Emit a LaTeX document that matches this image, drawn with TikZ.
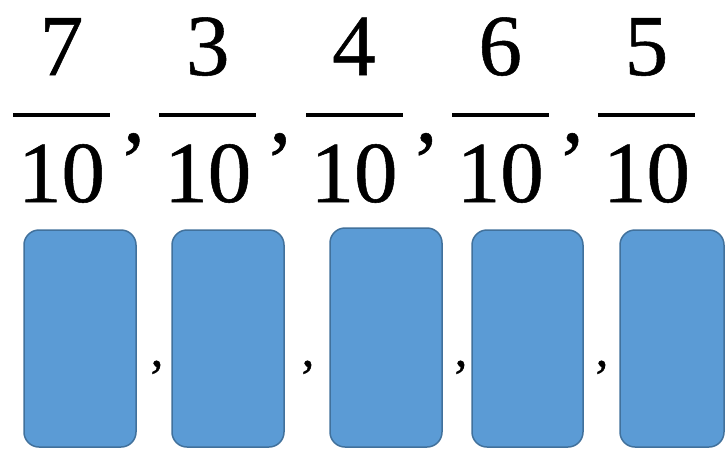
\documentclass[tikz,border=0pt]{standalone}
\usepackage{fontspec}
\setmainfont{Liberation Serif}
\newfontfamily\digitfont[FakeBold=0.6]{Liberation Serif}
\definecolor{boxfill}{HTML}{5B9BD5}
\definecolor{boxline}{HTML}{41719C}
\begin{document}
\begin{tikzpicture}[x=1pt,y=-1pt,
  digit/.style={inner sep=0pt,anchor=base,font=\digitfont\fontsize{87}{87}\selectfont},
  bigcomma/.style={inner sep=0pt,anchor=base,font=\digitfont\fontsize{87}{87}\selectfont},
  fracbar/.style={inner sep=0pt,minimum width=97pt,minimum height=4pt,fill=black},
  card/.style={rounded corners=15pt,fill=boxfill,draw=boxline,line width=1.5pt},
  smallcomma/.style={inner sep=0pt,anchor=base,font=\digitfont\fontsize{52}{52}\selectfont}]
\useasboundingbox (0,0) rectangle (726,448);
\fill[white] (0,0) rectangle (726,448);
% fractions
\node[digit] (n1) at (61.5,75) {7};
\node[digit] (n2) at (207.75,75) {3};
\node[digit] (n3) at (354,75) {4};
\node[digit] (n4) at (500.25,75) {6};
\node[digit] (n5) at (646.5,75) {5};
\node[fracbar] (b1) at (61.5,115) {};
\node[fracbar] (b2) at (207.75,115) {};
\node[fracbar] (b3) at (354,115) {};
\node[fracbar] (b4) at (500.25,115) {};
\node[fracbar] (b5) at (646.5,115) {};
\node[digit] (d1) at (61.5,202) {10};
\node[digit] (d2) at (207.75,202) {10};
\node[digit] (d3) at (354,202) {10};
\node[digit] (d4) at (500.25,202) {10};
\node[digit] (d5) at (646.5,202) {10};
\node[bigcomma] (c1) at (134,142) {,};
\node[bigcomma] (c2) at (280.25,142) {,};
\node[bigcomma] (c3) at (426.5,142) {,};
\node[bigcomma] (c4) at (572.75,142) {,};
% cards
\path[card] (24,230) rectangle (136,447);
\path[card] (172,230) rectangle (284,447);
\path[card] (330,228) rectangle (442,447);
\path[card] (472,230) rectangle (583,447);
\path[card] (620,230) rectangle (724,447);
\node[smallcomma] (s1) at (157,366) {,};
\node[smallcomma] (s2) at (308,366) {,};
\node[smallcomma] (s3) at (461,366) {,};
\node[smallcomma] (s4) at (602,366) {,};
\end{tikzpicture}
\end{document}
